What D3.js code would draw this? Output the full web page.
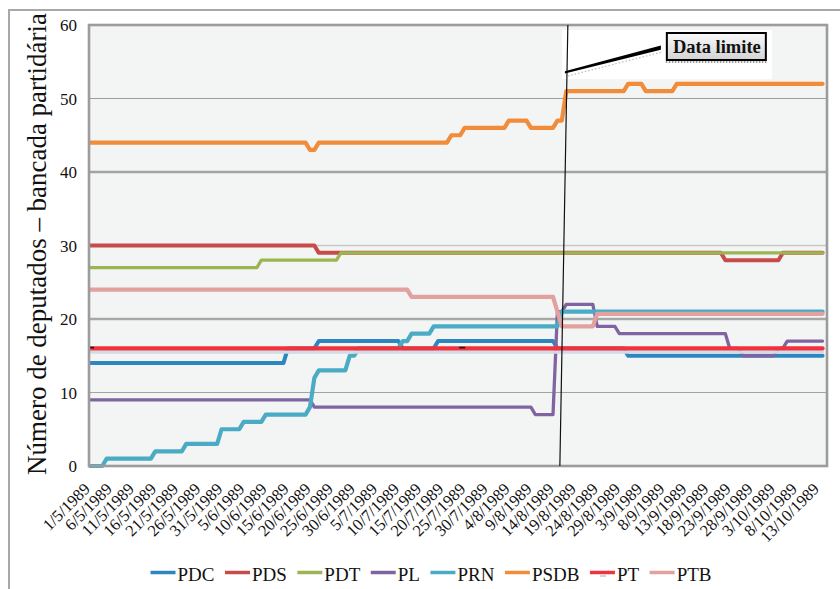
<!DOCTYPE html>
<html><head><meta charset="utf-8">
<script src="https://cdn.jsdelivr.net/npm/d3@7"></script>
<style>body{margin:0;background:#fff} svg{display:block}</style>
</head><body><svg id="c" width="840" height="589"></svg>
<script>
// ---- data (day = days since 1/5/1989) ----
const firstDay = "1/5/1989";
const lastAxisDay = 167;
const seriesNames = ["PDC","PDS","PDT","PL","PRN","PSDB","PT","PTB"];
const seriesColors = ["#2e86c1","#c84b4b","#9bb552","#8064a2","#4aabc4","#f08c3a","#f0323c","#e2a19f"];
const PDC  = [[0,14],[44,14],[45,16],[51,16],[52,17],[70,17],[71,16],[78,16],[79,17],[105,17],[106,16],[121,16],[122,15],[166,15]];
const PDS  = [[0,30],[51,30],[52,29],[143,29],[144,28],[156,28],[157,29],[166,29]];
const PDT  = [[0,27],[38,27],[39,28],[56,28],[57,29],[166,29]];
const PL   = [[0,9],[50,9],[51,8],[100,8],[101,7],[105,7],[106,21],[107,21],[108,22],[114,22],[115,19],[119,19],[120,18],[144,18],[145,16],[147,16],[148,15],[155,15],[156,16],[157,16],[158,17],[166,17]];
const PRN  = [[0,0],[3,0],[4,1],[14,1],[15,2],[21,2],[22,3],[29,3],[30,5],[34,5],[35,6],[39,6],[40,7],[49,7],[50,8],[51,12],[52,13],[58,13],[59,15],[60,15],[61,16],[70,16],[71,17],[72,17],[73,18],[77,18],[78,19],[106,19],[107,21],[166,21]];
const PSDB = [[0,44],[49,44],[50,43],[51,43],[52,44],[81,44],[82,45],[84,45],[85,46],[94,46],[95,47],[99,47],[100,46],[105,46],[106,47],[107,47],[108,51],[121,51],[122,52],[125,52],[126,51],[132,51],[133,52],[166,52]];
const PT   = [[0,16],[166,16]];
const PTB  = [[0,24],[72,24],[73,23],[105,23],[106,21],[107,19],[114,19],[115,20.7],[166,20.7]];
const ptMarkDays = [0,84];
const tickLabels = ["1/5/1989","6/5/1989","11/5/1989","16/5/1989","21/5/1989","26/5/1989","31/5/1989","5/6/1989","10/6/1989","15/6/1989","20/6/1989","25/6/1989","30/6/1989","5/7/1989","10/7/1989","15/7/1989","20/7/1989","25/7/1989","30/7/1989","4/8/1989","9/8/1989","14/8/1989","19/8/1989","24/8/1989","29/8/1989","3/9/1989","8/9/1989","13/9/1989","18/9/1989","23/9/1989","28/9/1989","3/10/1989","8/10/1989","13/10/1989"];
const yTicks = [0,10,20,30,40,50,60];
const dataLimite = "16/8/1989";
const yTitle = "Número de deputados – bancada partidária";
const annotation = "Data limite";

const seriesData = [PDC,PDS,PDT,PL,PRN,PSDB,PT,PTB];

// ---- helpers ----
function parseD(s){const [d,m,y]=s.split("/").map(Number);return new Date(Date.UTC(y,m-1,d));}
const t0 = parseD(firstDay);
const dayDate = n => new Date(t0.getTime() + n*86400000);

const svg = d3.select("#c");
const FONT = "'Liberation Serif', 'Times New Roman', serif";
const L=89, R=827, T=25, B=466;

const x = d3.scaleUtc().domain([t0, dayDate(lastAxisDay)]).range([L,R]);
const y = d3.scaleLinear().domain([0,60]).range([B,T]);

// outer frame
svg.append("rect").attr("x",9).attr("y",10).attr("width",840).attr("height",590)
  .attr("fill","#fff").attr("stroke","#a8a8a8").attr("stroke-width",2);

// plot area
svg.append("rect").attr("x",L).attr("y",T).attr("width",R-L).attr("height",B-T).attr("fill","#f3f5f4");

// gridlines
const gridStyle = {10:["#a3a3a3",1.2],20:["#a8a8a8",2.6],30:["#c8c8c8",1.6],40:["#a3a3a3",2.6],50:["#9e9e9e",1.2]};
svg.append("g").selectAll("line").data(yTicks.filter(v=>v>0&&v<60)).join("line")
  .attr("x1",L).attr("x2",R).attr("y1",d=>y(d)).attr("y2",d=>y(d))
  .attr("stroke",d=>gridStyle[d][0]).attr("stroke-width",d=>gridStyle[d][1]);

// y axis labels
const yAxis = d3.axisLeft(y).tickValues(yTicks).tickSize(0).tickPadding(12);
const ya = svg.append("g").attr("transform",`translate(${L},0)`).call(yAxis);
ya.select(".domain").remove();
ya.selectAll("text").attr("font-family",FONT).attr("font-size",17).attr("fill","#111").attr("dy","0.35em");

// x axis labels
const xa = svg.append("g");
xa.selectAll("text").data(tickLabels).join("text")
  .attr("transform",d=>`translate(${x(parseD(d))+2},490) rotate(-45)`)
  .attr("text-anchor","end").attr("font-family",FONT).attr("font-size",16.5).attr("fill","#111")
  .text(d=>d);

// y title
const yt = svg.append("text").attr("transform","translate(46,244) rotate(-90)")
  .attr("text-anchor","middle").attr("font-family",FONT).attr("font-size",21).attr("fill","#111").text(yTitle);
{const len = yt.node().getComputedTextLength(); yt.attr("font-size",21*462/len);}

// lines
const clip = svg.append("defs").append("clipPath").attr("id","pc");
clip.append("rect").attr("x",L).attr("y",T-5).attr("width",R-L).attr("height",B-T+10);
const line = d3.line().x(d=>x(dayDate(d[0]))).y(d=>y(d[1]));
const widths = [4,4,3.3,3.3,4.2,4.2,4.2,4.2];
const lg = svg.append("g").attr("fill","none").attr("stroke-linejoin","round").attr("stroke-linecap","round").attr("clip-path","url(#pc)");
seriesData.forEach((s,i)=>{
  if(seriesNames[i]==="PT"){
    lg.append("path").attr("d",line(s)).attr("stroke","#d3dae6").attr("stroke-width",3.4).attr("transform","translate(0,3.6)");
  }
  lg.append("path").attr("d",line(s)).attr("stroke",seriesColors[i]).attr("stroke-width",widths[i]);
  if(seriesNames[i]==="PT"){
    svg.append("g").selectAll("rect").data(ptMarkDays).join("rect")
      .attr("x",d=>x(dayDate(d))-1).attr("y",y(16)-1.6).attr("width",6).attr("height",1.6).attr("fill","#111");
  }
});

// plot border
svg.append("rect").attr("x",L).attr("y",T).attr("width",R-L).attr("height",B-T)
  .attr("fill","none").attr("stroke","#9c9c9c").attr("stroke-width",2.6);

// Data limite annotation
const xl = x(parseD(dataLimite));
svg.append("rect").attr("x",xl).attr("y",30).attr("width",210).attr("height",49).attr("fill","#fff");
svg.append("line").attr("x1",xl+6).attr("y1",T).attr("x2",xl-2).attr("y2",B).attr("stroke","#111").attr("stroke-width",1.2);
// arrow connector
svg.append("line").attr("x1",xl+6).attr("y1",76).attr("x2",xl+100).attr("y2",52).attr("stroke","#bbb").attr("stroke-width",1.2).attr("stroke-dasharray","1.5,2");
svg.append("path").attr("d",`M${xl+3},71.2 L${xl+99},45.6 L${xl+99},49.8 L${xl+3},73.6 Z`).attr("fill","#000");
const defs = svg.append("defs");
const gr = defs.append("linearGradient").attr("id","bx").attr("x1",0).attr("y1",0).attr("x2",0).attr("y2",1);
gr.append("stop").attr("offset","0").attr("stop-color","#fbfbfb");
gr.append("stop").attr("offset","1").attr("stop-color","#d2d2d2");
svg.append("line").attr("x1",xl+104).attr("x2",xl+206).attr("y1",62).attr("y2",62).attr("stroke","#999").attr("stroke-width",2).attr("stroke-dasharray","1.5,1.5");
svg.append("rect").attr("x",xl+105).attr("y",33).attr("width",99).attr("height",27).attr("fill","url(#bx)").attr("stroke","#000").attr("stroke-width",2);
svg.append("text").attr("x",xl+155).attr("y",53).attr("text-anchor","middle").attr("font-family",FONT)
  .attr("font-weight","bold").attr("font-size",18.5).attr("fill","#111").text(annotation);

// legend
const leg = svg.append("g");
let cx = 0;
seriesNames.forEach((n,i)=>{
  const g = leg.append("g").attr("transform",`translate(${cx},0)`);
  g.append("line").attr("x1",0).attr("x2",25).attr("y1",572.5).attr("y2",572.5).attr("stroke",seriesColors[i]).attr("stroke-width",3.5);
  if(n==="PT") g.append("rect").attr("x",10).attr("y",574.5).attr("width",6).attr("height",2.5).attr("fill","#cdd3df");
  const t = g.append("text").attr("x",27).attr("y",581).attr("font-family",FONT).attr("font-size",19).attr("fill","#111").text(n);
  cx += 27 + t.node().getComputedTextLength() + 10.5;
});
leg.attr("transform",`translate(${431 - (cx-10.5)/2},0)`);
</script>
</body></html>
